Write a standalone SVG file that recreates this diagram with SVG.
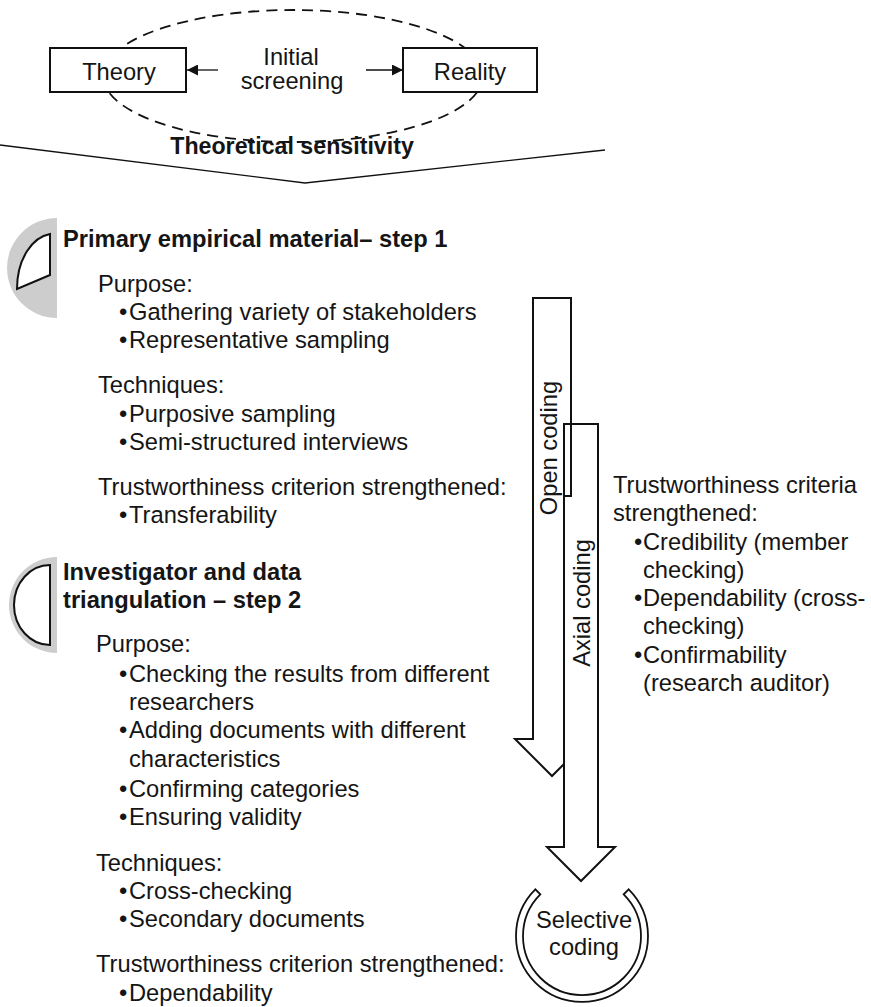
<svg xmlns="http://www.w3.org/2000/svg" width="871" height="1007" viewBox="0 0 871 1007">
<style>
text{font-family:"Liberation Sans",Arial,sans-serif;font-size:23.7px;fill:#151515}
.b{font-weight:bold}
.c{text-anchor:middle}
.box{fill:#fff;stroke:#111;stroke-width:2}
.ln{fill:none;stroke:#111;stroke-width:1.3}
.arr{fill:#fff;stroke:#111;stroke-width:2;stroke-linejoin:miter}
.gray{fill:#cdcdcd;stroke:none}
.icon{fill:#fff;stroke:#111;stroke-width:2}
</style>
<defs>
<marker id="ah" viewBox="0 0 10 10" refX="10" refY="5" markerWidth="12" markerHeight="11" markerUnits="userSpaceOnUse" orient="auto">
<path d="M0,0 L10,5 L0,10 Z" fill="#111"/>
</marker>
</defs>
<rect width="871" height="1007" fill="#fff"/>

<g id="sensitivity">
<ellipse cx="293" cy="76" rx="190" ry="66" fill="none" stroke="#111" stroke-width="1.8" stroke-dasharray="11 7"/>
<text class="b c" x="292" y="154" style="font-size:23.2px">Theoretical sensitivity</text>
</g>

<g id="theory">
<rect class="box" x="50" y="48" width="136" height="44"/>
<text class="c" x="119" y="80">Theory</text>
</g>
<g id="reality">
<rect class="box" x="403" y="48" width="134" height="44"/>
<text class="c" x="470" y="80">Reality</text>
</g>
<g id="screening">
<text class="c" x="291" y="65">Initial</text>
<text class="c" x="292" y="89">screening</text>
</g>

<g id="connectors">
<line class="ln" x1="218" y1="70" x2="187" y2="70" marker-end="url(#ah)"/>
<line class="ln" x1="366" y1="70" x2="403" y2="70" marker-end="url(#ah)"/>
<path class="ln" d="M0,145 L305,183 L605,150"/>
</g>

<g id="step1">
<path class="gray" d="M57,218 A50,50 0 0,0 57,318 Z"/>
<path class="icon" d="M50,234 C33,237 17,258 17,289 L50,275 Z"/>
<text class="b" x="63" y="247">Primary empirical material– step 1</text>
<text x="98" y="292">Purpose:</text>
<text x="119" y="320">•</text><text x="129" y="320">Gathering variety of stakeholders</text>
<text x="119" y="348">•</text><text x="129" y="348">Representative sampling</text>
<text x="98" y="393">Techniques:</text>
<text x="119" y="422">•</text><text x="129" y="422">Purposive sampling</text>
<text x="119" y="450">•</text><text x="129" y="450">Semi-structured interviews</text>
<text x="98" y="495">Trustworthiness criterion strengthened:</text>
<text x="119" y="523">•</text><text x="129" y="523">Transferability</text>
</g>

<g id="step2">
<path class="gray" d="M57,557 A48,48 0 0,0 57,653 Z"/>
<path class="icon" d="M50,565 A36,40 0 0,0 50,645 Z"/>
<text class="b" x="63" y="580">Investigator and data</text>
<text class="b" x="63" y="608">triangulation – step 2</text>
<text x="96" y="652">Purpose:</text>
<text x="119" y="682">•</text><text x="129" y="682">Checking the results from different</text>
<text x="129" y="710">researchers</text>
<text x="119" y="738">•</text><text x="129" y="738">Adding documents with different</text>
<text x="129" y="767">characteristics</text>
<text x="119" y="797">•</text><text x="129" y="797">Confirming categories</text>
<text x="119" y="825">•</text><text x="129" y="825">Ensuring validity</text>
<text x="96" y="871">Techniques:</text>
<text x="119" y="899">•</text><text x="129" y="899">Cross-checking</text>
<text x="119" y="927">•</text><text x="129" y="927">Secondary documents</text>
<text x="96" y="972">Trustworthiness criterion strengthened:</text>
<text x="119" y="1001">•</text><text x="129" y="1001">Dependability</text>
</g>

<g id="open-coding">
<path class="arr" d="M533,298 L571,298 L571,739 L589,739 L552,776 L515,739 L533,739 Z"/>
<text class="c" transform="translate(557,448) rotate(-90)">Open coding</text>
</g>

<g id="axial-coding">
<path class="arr" d="M564,424 L598,424 L598,847 L615,847 L581,881 L547,847 L564,847 Z"/>
<path class="ln" style="stroke-width:2" d="M571,424 L571,496 L564,496"/>
<text class="c" transform="translate(590,603) rotate(-90)">Axial coding</text>
</g>

<g id="criteria">
<text x="613" y="493">Trustworthiness criteria</text>
<text x="613" y="521">strengthened:</text>
<text x="634" y="550">•</text><text x="643" y="550">Credibility (member</text>
<text x="643" y="578">checking)</text>
<text x="634" y="606">•</text><text x="643" y="606">Dependability (cross-</text>
<text x="643" y="634">checking)</text>
<text x="634" y="663">•</text><text x="643" y="663">Confirmability</text>
<text x="643" y="691">(research auditor)</text>
</g>

<g id="selective-coding">
<path fill="#fff" stroke="#111" stroke-width="1.8" d="M535.3,889.3 A66,66 0 1,0 628.7,889.3 L623.7,894.3 A59,59 0 1,1 540.3,894.3 Z"/>
<text class="c" x="584" y="928">Selective</text>
<text class="c" x="584" y="955">coding</text>
</g>
</svg>
